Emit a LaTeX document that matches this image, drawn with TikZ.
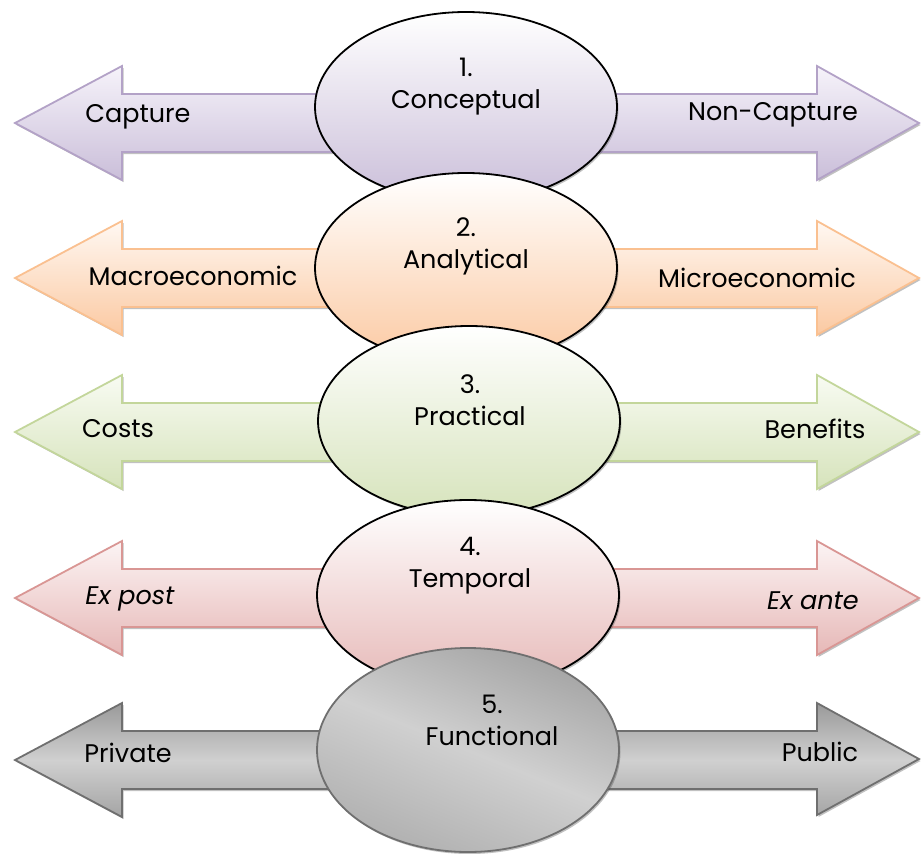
\documentclass[tikz,border=0pt]{standalone}
\usepackage{fontspec}
\setmainfont{Poppins}
\usetikzlibrary{shapes.geometric,shadows,calc}
\definecolor{pS}{HTML}{B3A2C7}\definecolor{pT}{HTML}{F6F3FA}\definecolor{pB}{HTML}{CABED9}
\definecolor{oS}{HTML}{FAC090}\definecolor{oT}{HTML}{FFF8F2}\definecolor{oB}{HTML}{FBC9A2}
\definecolor{gS}{HTML}{C3D69B}\definecolor{gT}{HTML}{F8FBF2}\definecolor{gB}{HTML}{D6E3BB}
\definecolor{rS}{HTML}{D99694}\definecolor{rT}{HTML}{FCF4F4}\definecolor{rB}{HTML}{E6B8B7}
\definecolor{kS}{HTML}{6F6F6F}\definecolor{kT}{HTML}{999999}\definecolor{kM}{HTML}{D0D0D0}
\definecolor{kD}{HTML}{858585}
\newcommand\rowarrow[4]{%
  \draw[dblarrow, draw=#2, top color=#3, bottom color=#4]
    (15,#1) -- (122,#1-57) -- (122,#1-29) -- (817,#1-29) -- (817,#1-57) -- (919,#1)
    -- (817,#1+57) -- (817,#1+29) -- (122,#1+29) -- (122,#1+57) -- cycle;}
\tikzset{
  dblarrow/.style={line width=1.8pt, line join=miter,
    drop shadow={shadow xshift=1.5pt, shadow yshift=-2pt, opacity=0.35, fill=black!70}},
  oval/.style={ellipse, draw=black, line width=1.8pt, minimum width=302pt, minimum height=190pt,
    inner sep=0pt, drop shadow={shadow xshift=1.5pt, shadow yshift=-2pt, opacity=0.35, fill=black!70}},
  lbl/.style={font=\fontsize{25.5}{32}\selectfont, inner sep=0pt, align=center},
}
\begin{document}
\begin{tikzpicture}[x=1pt,y=-1pt]
\useasboundingbox (0,0) rectangle (921,854);
% row 1
\rowarrow{123}{pS}{pT}{pB}
\node[oval, top color=white, bottom color=pB] (e1) at (466,107) {};
\node[lbl] (t1) at (466,87) {1.\\Conceptual};
\node[lbl] (l1) at (138,117) {Capture};
\node[lbl] (r1) at (773,115) {Non-Capture};
% row 2
\rowarrow{278}{oS}{oT}{oB}
\node[oval, top color=white, bottom color=oB] (e2) at (466,268) {};
\node[lbl] (t2) at (466,246) {2.\\Analytical};
\node[lbl] (l2) at (193,276) {Macroeconomic};
\node[lbl] (r2) at (757,278) {Microeconomic};
% row 3
\rowarrow{432}{gS}{gT}{gB}
\node[oval, top color=white, bottom color=gB] (e3) at (469,421) {};
\node[lbl] (t3) at (470,400) {3.\\Practical};
\node[lbl] (l3) at (118,429) {Costs};
\node[lbl] (r3) at (815,429) {Benefits};
% row 4
\rowarrow{598}{rS}{rT}{rB}
\node[oval, top color=white, bottom color=rB] (e4) at (468,595) {};
\node[lbl] (t4) at (470,566) {4.\\Temporal};
\node[lbl] (l4) at (130,599) {\itshape Ex post};
\node[lbl] (r4) at (813,601) {\itshape Ex ante};
% row 5
\draw[dblarrow, draw=kS, top color=kT, bottom color=kT!80!kM, middle color=kM]
    (15,760) -- (122,703) -- (122,731) -- (817,731) -- (817,703) -- (919,759)
    -- (817,815) -- (817,789) -- (122,789) -- (122,817) -- cycle;
\node[oval, draw=kS, minimum height=204pt, fill=kM,
  path picture={\shade[top color=kD, bottom color=kT, middle color=kM, shading angle=-22]
    ($(path picture bounding box.center)+(-200,-200)$) rectangle ++(400,400);}]
  (e5) at (468,750) {};
\node[lbl] (t5) at (492,720) {5.\\Functional};
\node[lbl] (l5) at (128,753) {Private};
\node[lbl] (r5) at (820,752) {Public};
\end{tikzpicture}
\end{document}
